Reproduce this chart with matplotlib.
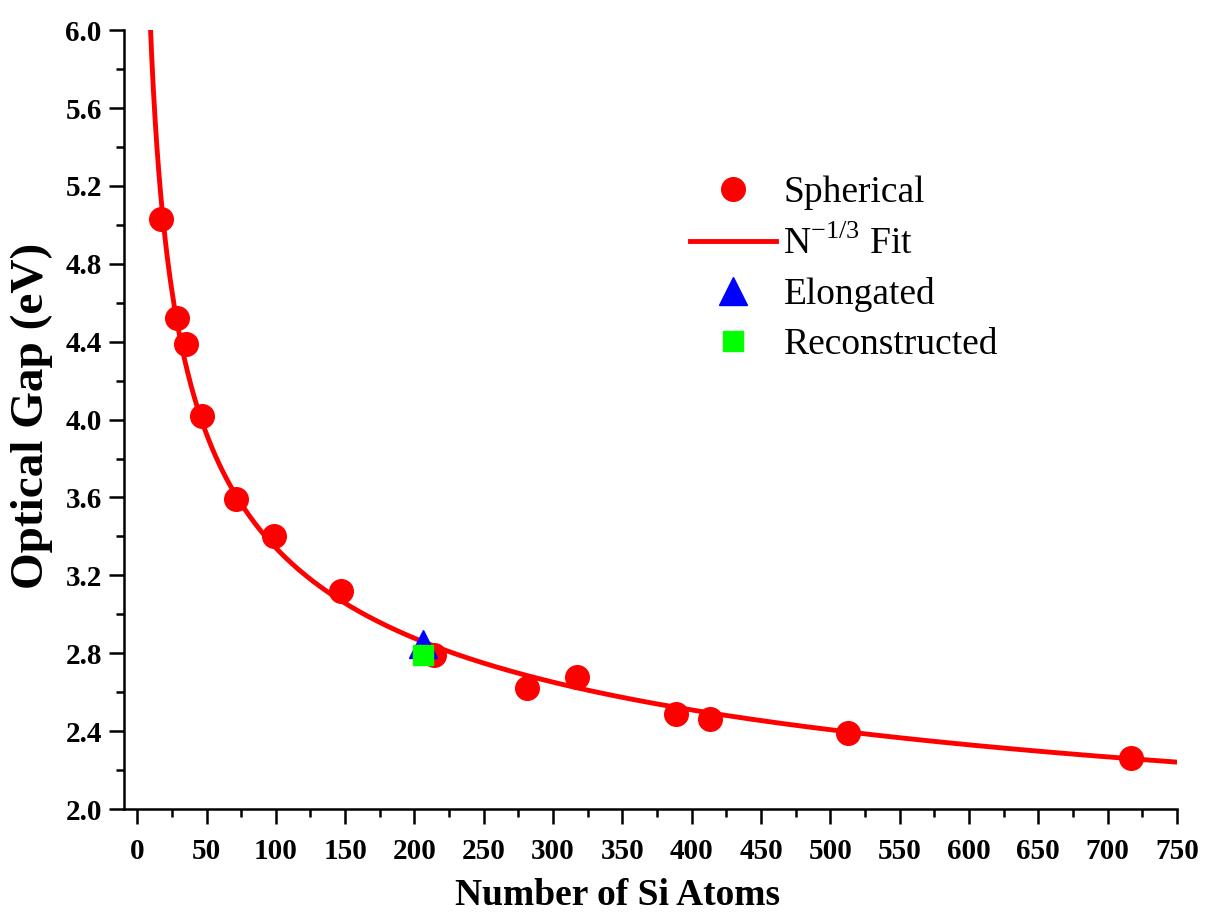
import numpy as np
import matplotlib.pyplot as plt
from matplotlib.ticker import MultipleLocator

# dados
N_esferico = [17, 29, 35, 47, 71, 99, 147, 214, 281, 317, 389, 413, 513, 717]
gap_esferico = [5.03, 4.52, 4.39, 4.02, 3.59, 3.40, 3.12, 2.79, 2.62, 2.68, 2.49, 2.46, 2.39, 2.26]
N_alongado = [206]
gap_alongado = [2.85]
N_reconstruido = [206]
gap_reconstruido = [2.79]

# ajuste E = a + b*N^(-1/3)
b, a = np.polyfit(np.array(N_esferico) ** (-1.0 / 3), gap_esferico, 1)
N_fit = np.linspace(8, 750, 600)
gap_fit = a + b * N_fit ** (-1.0 / 3)

plt.rcParams['font.family'] = ['Liberation Serif', 'DejaVu Serif']

fig = plt.figure(figsize=(12.1, 9.16), dpi=100)
ax = fig.add_axes([0.1025, 0.1168, 0.8702, 0.8502])

ax.plot(N_esferico, gap_esferico, 'o', color='#ff0000', ms=17, label='Spherical', zorder=3)
ax.plot(N_fit, gap_fit, '-', color='#ff0000', lw=3.5, label=r'N$^{\mathregular{-1/3}}$ Fit', zorder=2)
ax.plot(N_alongado, gap_alongado, '^', color='#0000ff', ms=20, label='Elongated', zorder=4)
ax.plot(N_reconstruido, gap_reconstruido, 's', color='#00ff00', ms=15, label='Reconstructed', zorder=5)

ax.set_xlim(-9.5, 750)
ax.set_ylim(2.0, 6.0)
ax.xaxis.set_major_locator(MultipleLocator(50))
ax.xaxis.set_minor_locator(MultipleLocator(25))
ax.yaxis.set_major_locator(MultipleLocator(0.4))
ax.yaxis.set_minor_locator(MultipleLocator(0.2))
ax.yaxis.set_major_formatter(plt.FormatStrFormatter('%.1f'))

ax.spines['top'].set_visible(False)
ax.spines['right'].set_visible(False)
for s in ['left', 'bottom']:
    ax.spines[s].set_linewidth(1.8)
ax.tick_params(which='major', direction='out', length=11, width=1.8, labelsize=21)
ax.tick_params(which='minor', direction='out', length=6, width=1.8)
ax.tick_params(axis='x', which='major', pad=10)
ax.tick_params(axis='y', which='major', pad=5)
for lab in ax.get_xticklabels() + ax.get_yticklabels():
    lab.set_fontweight('bold')

ax.set_xlabel('Number of Si Atoms', fontsize=27, fontweight='bold')
ax.set_ylabel('Optical Gap (eV)', fontsize=34, fontweight='bold')
ax.xaxis.set_label_coords(0.469, -0.088)
ax.yaxis.set_label_coords(-0.067, 0.505)

ax.legend(loc='upper left', bbox_to_anchor=(0.5545, 0.829), bbox_transform=fig.transFigure,
          frameon=False, fontsize=27, handlelength=2.3, handletextpad=0.2,
          labelspacing=0.415, borderpad=0)

fig.savefig('out.png', dpi=100)
